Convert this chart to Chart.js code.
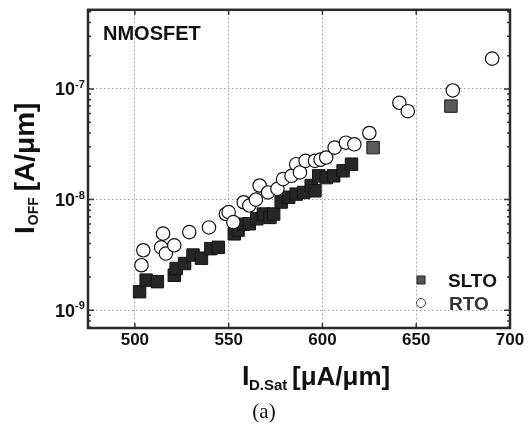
<!DOCTYPE html>
<html>
<head>
<meta charset="utf-8">
<script src="https://cdn.jsdelivr.net/npm/chart.js@4.4.1/dist/chart.umd.min.js"></script>
<style>
  body { margin: 0; background: #fff; }
  #wrap { width: 530px; height: 430px; }
</style>
</head>
<body>
<div id="wrap"><canvas id="c" width="530" height="430"></canvas></div>
<script>
// I_D.Sat [uA/um] vs I_OFF [A/um]
const sltoX = [502.5, 506, 512, 521, 522, 526.5, 531, 535.5, 540.5, 544.5,
  553, 555, 558, 561, 565, 568.5, 572, 574, 578, 582, 586, 590, 594, 596,
  598, 602, 606, 611, 615.5, 627, 668.5];
const sltoY = [1.47e-9, 1.87e-9, 1.81e-9, 2.07e-9, 2.38e-9, 2.64e-9, 3.15e-9, 2.95e-9, 3.6e-9, 3.7e-9,
  4.9e-9, 5.3e-9, 6.0e-9, 6.05e-9, 6.7e-9, 7.4e-9, 6.9e-9, 7.4e-9, 9.5e-9, 1.05e-8, 1.12e-8, 1.16e-8, 1.34e-8, 1.2e-8,
  1.64e-8, 1.58e-8, 1.64e-8, 1.82e-8, 2.09e-8, 2.95e-8, 7.0e-8];

const rtoX = [503.5, 504.5, 515, 514, 516.5, 521, 529, 539.5, 548.5, 550,
  552.5, 558, 561, 564.5, 566.5, 571, 576, 579, 583.5, 586, 588, 591, 596,
  599, 602, 606.5, 612.5, 617, 625, 641, 645.5, 669.5, 690.5];
const rtoY = [2.55e-9, 3.48e-9, 4.92e-9, 3.7e-9, 3.25e-9, 3.86e-9, 5.08e-9, 5.6e-9, 7.4e-9, 7.7e-9,
  6.25e-9, 9.46e-9, 8.83e-9, 1.0e-8, 1.34e-8, 1.16e-8, 1.25e-8, 1.53e-8, 1.64e-8, 2.09e-8, 1.76e-8, 2.24e-8, 2.24e-8,
  2.3e-8, 2.4e-8, 2.95e-8, 3.27e-8, 3.16e-8, 4.0e-8, 7.5e-8, 6.3e-8, 9.7e-8, 1.88e-7];

const xTicks = [500, 550, 600, 650, 700];
const yTicks = [1e-9, 1e-8, 1e-7];
const yTickExp = ['-9', '-8', '-7'];
const seriesNames = ['SLTO', 'RTO'];

const SANS = "'Liberation Sans', Arial, sans-serif";

function pts(xs, ys) {
  return xs.map((x, i) => ({ x: x, y: ys[i] }));
}

// box, inner ticks, labels, titles, legend
const decor = {
  id: 'decor',
  afterDraw(chart) {
    const ctx = chart.ctx;
    const a = chart.chartArea;
    const xs = chart.scales.x, ys = chart.scales.y;
    ctx.save();

    // ticks inside the frame
    ctx.strokeStyle = '#333';
    ctx.lineWidth = 1.5;
    xTicks.forEach(v => {
      const px = xs.getPixelForValue(v);
      ctx.beginPath();
      ctx.moveTo(px, a.bottom); ctx.lineTo(px, a.bottom - 5);
      ctx.moveTo(px, a.top); ctx.lineTo(px, a.top + 5);
      ctx.stroke();
    });
    for (let e = -10; e <= -7; e++) {
      for (let m = 1; m <= 9; m++) {
        const v = m * Math.pow(10, e);
        if (v < ys.min || v > ys.max) continue;
        const py = ys.getPixelForValue(v);
        const len = m === 1 ? 6 : 3;
        ctx.beginPath();
        ctx.moveTo(a.left, py); ctx.lineTo(a.left + len, py);
        ctx.moveTo(a.right, py); ctx.lineTo(a.right - len, py);
        ctx.stroke();
      }
    }

    // frame
    ctx.strokeStyle = '#2a2a2a';
    ctx.lineWidth = 2.5;
    ctx.strokeRect(a.left, a.top, a.right - a.left, a.bottom - a.top);

    ctx.fillStyle = '#111';
    // x tick labels
    ctx.font = 'bold 17px ' + SANS;
    ctx.textAlign = 'center';
    ctx.textBaseline = 'alphabetic';
    xTicks.forEach(v => {
      ctx.fillText(String(v), xs.getPixelForValue(v), 345);
    });

    // y tick labels 10^n
    yTicks.forEach((v, i) => {
      const py = ys.getPixelForValue(v);
      ctx.font = 'bold 18px ' + SANS;
      ctx.textAlign = 'right';
      ctx.fillText('10', 75, py + 6.5);
      ctx.font = 'bold 11px ' + SANS;
      ctx.textAlign = 'left';
      ctx.fillText(yTickExp[i], 75, py - 1);
    });

    // y title
    ctx.save();
    ctx.translate(34, 234);
    ctx.rotate(-Math.PI / 2);
    ctx.textAlign = 'left';
    ctx.font = 'bold 28px ' + SANS;
    ctx.fillText('I', 0, 0);
    let w = ctx.measureText('I').width;
    ctx.font = 'bold 14px ' + SANS;
    ctx.fillText('OFF', w + 1, 4);
    w += 1 + ctx.measureText('OFF').width + 6;
    ctx.font = 'bold 28px ' + SANS;
    ctx.fillText('[A/\u03bcm]', w, 0);
    ctx.restore();

    // x title
    ctx.textAlign = 'left';
    ctx.font = 'bold 27px ' + SANS;
    ctx.fillText('I', 242, 385);
    ctx.font = 'bold 15px ' + SANS;
    ctx.fillText('D.Sat', 249, 390);
    ctx.font = 'bold 26px ' + SANS;
    ctx.fillText('[\u03bcA/\u03bcm]', 292, 385);

    // panel label
    ctx.font = 'bold 20px ' + SANS;
    ctx.fillText('NMOSFET', 103, 40);

    // legend
    ctx.fillStyle = '#555';
    ctx.strokeStyle = '#222';
    ctx.lineWidth = 1;
    ctx.fillRect(417, 276, 8, 8);
    ctx.strokeRect(417, 276, 8, 8);
    ctx.beginPath();
    ctx.arc(421, 303, 4.5, 0, Math.PI * 2);
    ctx.fillStyle = '#fff';
    ctx.fill();
    ctx.strokeStyle = '#444';
    ctx.stroke();
    ctx.fillStyle = '#111';
    ctx.font = 'bold 19px ' + SANS;
    ctx.fillText(seriesNames[0], 448, 287);
    ctx.fillStyle = '#333';
    ctx.fillText(seriesNames[1], 449, 310);

    // caption
    ctx.fillStyle = '#111';
    ctx.font = "21px 'Liberation Serif', 'Times New Roman', serif";
    ctx.textAlign = 'center';
    ctx.fillText('(a)', 264, 418);

    ctx.restore();
  }
};

new Chart(document.getElementById('c'), {
  type: 'scatter',
  data: {
    datasets: [{
      label: seriesNames[0],
      data: pts(sltoX, sltoY),
      pointStyle: 'rect',
      pointRadius: 8.8,
      backgroundColor: ctx => (ctx.raw && ctx.raw.y > 2.5e-8) ? '#5a5a5a' : '#262626',
      borderColor: '#151515',
      borderWidth: 1,
      order: 2
    }, {
      label: seriesNames[1],
      data: pts(rtoX, rtoY),
      pointStyle: 'circle',
      pointRadius: 6.7,
      backgroundColor: '#fff',
      borderColor: '#111',
      borderWidth: 1.2,
      order: 1
    }]
  },
  options: {
    responsive: false,
    animation: false,
    devicePixelRatio: 1,
    layout: { padding: { left: 88, right: 20, top: 8, bottom: 102 } },
    plugins: {
      legend: { display: false },
      tooltip: { enabled: false }
    },
    scales: {
      x: {
        type: 'linear',
        min: 475,
        max: 700,
        afterBuildTicks: s => { s.ticks = xTicks.map(v => ({ value: v })); },
        afterFit: s => { s.height = 0; },
        ticks: { display: false },
        grid: { color: '#9a9a9a', lineWidth: 1, drawTicks: false },
        border: { display: false, dash: [1.5, 2.5] }
      },
      y: {
        type: 'logarithmic',
        min: 6.9e-10,
        max: 5.2e-7,
        afterBuildTicks: s => { s.ticks = yTicks.map(v => ({ value: v })); },
        afterFit: s => { s.width = 0; },
        ticks: { display: false },
        grid: { color: '#9a9a9a', lineWidth: 1, drawTicks: false },
        border: { display: false, dash: [1.5, 2.5] }
      }
    }
  },
  plugins: [decor]
});
</script>
</body>
</html>
